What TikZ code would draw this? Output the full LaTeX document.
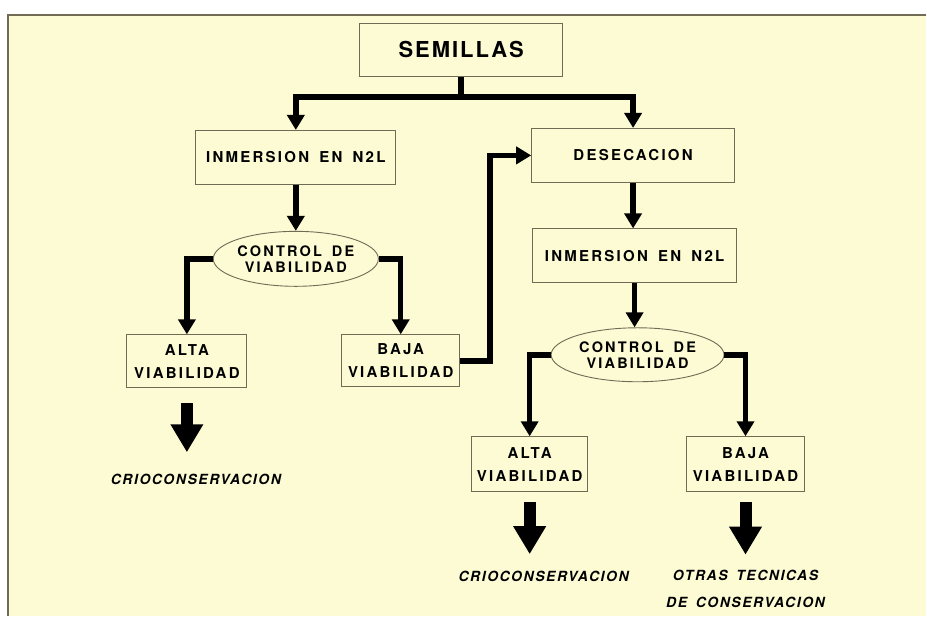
\documentclass[tikz,border=0pt]{standalone}
\usepackage{fontspec}
\setmainfont{TeX Gyre Heros}
\newfontfamily\boxfont[LetterSpace=15,WordSpace=1.6]{TeX Gyre Heros}
\newfontfamily\titlefont[LetterSpace=9]{TeX Gyre Heros}
\newfontfamily\endfont[LetterSpace=11,WordSpace=1.6]{TeX Gyre Heros}
\usetikzlibrary{arrows.meta,shapes.geometric}
\definecolor{paper}{HTML}{FCFBD4}
\definecolor{rule}{HTML}{6F6B55}

\begin{document}
\begin{tikzpicture}[x=1bp,y=-1bp,
    box/.style={draw=rule,line width=0.9bp,fill=paper,align=center,inner sep=0pt,minimum height=54bp,
      font=\boxfont\bfseries\fontsize{15bp}{23bp}\selectfont},
    oval/.style={box,ellipse,font=\boxfont\bfseries\fontsize{14.5bp}{16bp}\selectfont},
    result/.style={align=center,inner sep=0pt,font=\endfont\bfseries\itshape\fontsize{14bp}{27bp}\selectfont},
    conn/.style={line width=5.5bp,-{Triangle[width=17bp,length=15bp]}},
    fat/.style={line width=12bp,-{Triangle[width=31bp,length=28bp]}}]
  % sheet and frame
  \fill[white] (0,0) rectangle (927,616);
  \fill[paper] (8,15) rectangle (927,616);
  \draw[rule,line width=1.2bp] (927,15) -- (8,15) -- (8,616);

  \node[box,minimum width=203bp,font=\titlefont\bfseries\fontsize{22bp}{26bp}\selectfont] (semillas) at (461.5,50) {SEMILLAS};
  \node[box,minimum width=200bp] (inm1) at (296,157.5) {INMERSION EN N2L};
  \node[box,minimum width=203bp] (dese) at (633.5,155.5) {DESECACION};
  \node[box,minimum width=204bp] (inm2) at (635,256) {INMERSION EN N2L};
  \node[oval,minimum width=164bp,minimum height=55bp] (ctrl1) at (296,259) {CONTROL DE\\VIABILIDAD};
  \node[oval,minimum width=173bp,minimum height=54bp] (ctrl2) at (638,355) {CONTROL DE\\VIABILIDAD};
  \node[box,minimum width=120bp,minimum height=53bp] (alta1) at (187,361.5) {ALTA\\VIABILIDAD};
  \node[box,minimum width=118bp,minimum height=52bp] (baja1) at (401,361) {BAJA\\VIABILIDAD};
  \node[box,minimum width=116bp,minimum height=55bp] (alta2) at (530,464.5) {ALTA\\VIABILIDAD};
  \node[box,minimum width=118bp,minimum height=55bp] (baja2) at (746,464.5) {BAJA\\VIABILIDAD};
  \node[result] (crio1) at (196,480) {CRIOCONSERVACION};
  \node[result] (crio2) at (544,577) {CRIOCONSERVACION};
  \node[result,anchor=north] (otras) at (746,570) {OTRAS TECNICAS\\DE CONSERVACION};

  % connectors
  \coordinate (split) at (461.5,97);
  \draw[line width=5.5bp] (semillas.south) -- (split);
  \draw[conn] (split) -| (inm1.north);
  \draw[conn] (split) -| (dese.north);
  \draw[conn] (inm1.south) -- (inm1.south |- ctrl1.north);
  \draw[conn] (ctrl1.west) -| (alta1.north);
  \draw[conn] (ctrl1.east) -| (baja1.north);
  \draw[conn] (baja1.east) -- ++(30,0) |- (dese.west);
  \draw[conn] (dese.south) -- (dese.south |- inm2.north);
  \draw[conn] (inm2.south) -- (inm2.south |- ctrl2.north);
  \draw[conn] (ctrl2.west) -| (alta2.north);
  \draw[conn] (ctrl2.east) -| (baja2.north);
  \draw[fat,shorten <=15bp,shorten >=22bp] (alta1.south) -- (alta1.south |- crio1.north);
  \draw[fat,shorten <=10bp,shorten >=17bp] (alta2.south) -- (alta2.south |- crio2.north);
  \draw[fat,shorten <=10bp,shorten >=15bp] (baja2.south) -- (baja2.south |- otras.north);
\end{tikzpicture}
\end{document}
